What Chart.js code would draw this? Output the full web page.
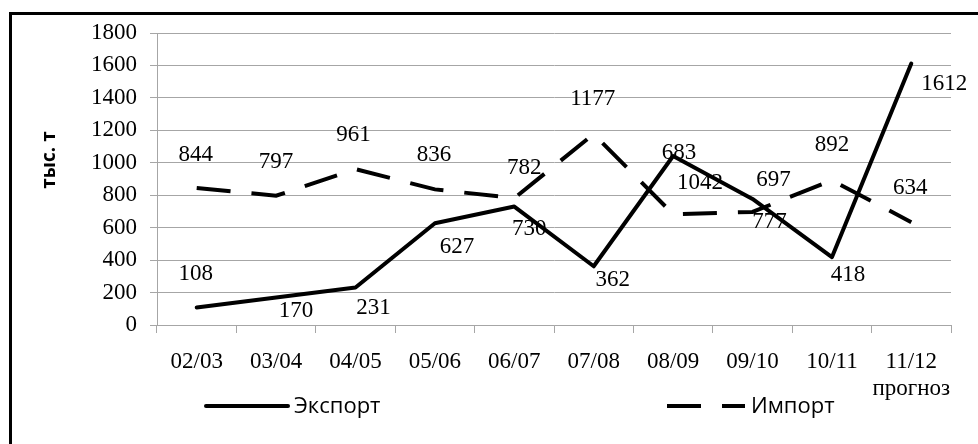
<!DOCTYPE html>
<html lang="ru">
<head>
<meta charset="UTF-8">
<title>Экспорт и импорт</title>
<script src="https://cdn.jsdelivr.net/npm/chart.js@4.4.0/dist/chart.umd.min.js"></script>
<style>
  html, body { margin: 0; padding: 0; background: #fff; }
  #wrap { position: relative; width: 978px; height: 444px; overflow: hidden; }
  #frame { position: absolute; left: 9px; top: 12px; width: 1000px; height: 500px;
           border-top: 3px solid #000; border-left: 3px solid #000; }
  #chart { position: absolute; left: 0; top: 0; }
</style>
</head>
<body>
<div id="wrap">
  <div id="frame"></div>
  <canvas id="chart" width="978" height="444"></canvas>
</div>

<script>
// data
const seasons = ['02/03', '03/04', '04/05', '05/06', '06/07', '07/08', '08/09', '09/10', '10/11', ['11/12', 'прогноз']];
const exportVals = [108, 170, 231, 627, 730, 362, 1042, 777, 418, 1612];
const importVals = [844, 797, 961, 836, 782, 1177, 683, 697, 892, 634];
const yTicks = [0, 200, 400, 600, 800, 1000, 1200, 1400, 1600, 1800];

// where the value labels sit relative to their point (px)
const exportLabelShift = [[-1,-34],[20,14],[18,20],[22,24],[15,22],[19,14],[27,27],[17,23],[16,18],[33,20]];
const importLabelShift = [[-1,-33],[0,-34],[-2,-34],[-1,-34],[10,-30],[-1,-35],[6,-61],[21,-32],[0,-35],[-1,-34]];

const SERIF = '"Liberation Serif", "Times New Roman", serif';
const SANS = '"Open Sans", "Liberation Sans", sans-serif';
const GRID = '#a6a6a6';

// value labels + legend + axis title
const extras = {
  id: 'extras',
  afterDatasetsDraw(chart) {
    const ctx = chart.ctx;
    ctx.save();
    ctx.fillStyle = '#000';
    ctx.font = '23px ' + SERIF;
    ctx.textAlign = 'center';
    ctx.textBaseline = 'middle';
    const shifts = [exportLabelShift, importLabelShift];
    chart.data.datasets.forEach((ds, di) => {
      chart.getDatasetMeta(di).data.forEach((pt, i) => {
        const s = shifts[di][i];
        ctx.fillText(String(ds.data[i]), pt.x + s[0], pt.y + s[1]);
      });
    });

    // y axis title
    ctx.save();
    ctx.translate(50, 160);
    ctx.rotate(-Math.PI / 2);
    ctx.font = 'bold 19px ' + SANS;
    ctx.fillText('тыс. т', 0, 0);
    ctx.restore();

    // legend
    ctx.strokeStyle = '#000';
    ctx.lineWidth = 4;
    ctx.lineCap = 'round';
    ctx.beginPath();
    ctx.moveTo(206, 406);
    ctx.lineTo(288, 406);
    ctx.stroke();
    ctx.lineCap = 'butt';
    ctx.setLineDash([34, 21]);
    ctx.beginPath();
    ctx.moveTo(667, 406);
    ctx.lineTo(745, 406);
    ctx.stroke();
    ctx.setLineDash([]);
    ctx.font = '22px ' + SANS;
    ctx.textAlign = 'left';
    ctx.fillText(chart.data.datasets[0].label, 294, 407);
    ctx.fillText(chart.data.datasets[1].label, 751, 407);
    ctx.restore();
  }
};

new Chart(document.getElementById('chart'), {
  type: 'line',
  data: {
    labels: seasons,
    datasets: [
      {
        label: 'Экспорт',
        data: exportVals,
        borderColor: '#000',
        borderWidth: 4,
        pointRadius: 0,
        tension: 0,
        borderJoinStyle: 'round',
        borderCapStyle: 'round',
        fill: false
      },
      {
        label: 'Импорт',
        data: importVals,
        borderColor: '#000',
        borderWidth: 4,
        borderDash: [34, 21],
        pointRadius: 0,
        tension: 0,
        fill: false
      }
    ]
  },
  options: {
    responsive: false,
    animation: false,
    devicePixelRatio: 1,
    layout: { padding: { left: 0, top: 33, right: 27, bottom: 0 } },
    plugins: {
      legend: { display: false },
      tooltip: { enabled: false }
    },
    scales: {
      x: {
        offset: true,
        grid: { display: true, drawOnChartArea: false, offset: true, tickLength: 8, color: GRID },
        border: { color: GRID, width: 1 },
        ticks: { color: '#000', font: { family: SERIF, size: 23, lineHeight: 1.2 }, padding: 15, maxRotation: 0, autoSkip: false },
        afterFit(scale) { scale.height = 119; }
      },
      y: {
        min: 0,
        max: 1800,
        afterBuildTicks(scale) { scale.ticks = yTicks.map(v => ({ value: v })); },
        grid: { color: GRID, tickLength: 7 },
        border: { color: GRID, width: 1 },
        ticks: { color: '#000', font: { family: SERIF, size: 23 }, padding: 13, callback: v => String(v) },
        afterFit(scale) { scale.width = 157; }
      }
    }
  },
  plugins: [extras]
});
</script>
</body>
</html>
